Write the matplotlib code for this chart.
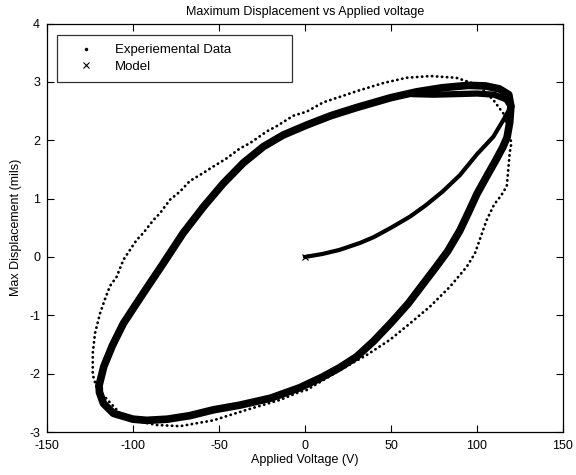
import numpy as np
import matplotlib
matplotlib.use("Agg")
import matplotlib.pyplot as plt
from matplotlib.lines import Line2D

plt.rcParams['font.family'] = ['Liberation Sans', 'DejaVu Sans']
plt.rcParams['axes.unicode_minus'] = False

exp_v = [115.3, 109.5, 104, 100, 88, 73, 59, 45.5, 30, 24, 10.7, 1, -6.8, -16.5, -22.3, -32, -37.8,
         -46, -53.3, -59.1, -67, -72.7, -78.5, -84.3, -88.2, -94, -97.9, -105.6, -109.5, -113.4,
         -116, -119.2, -122.1, -123.4, -123.4, -121, -116.3, -107.6, -100, -86.2, -72.7, -53.3,
         -33.9, -14.5, -2.9, 1, 20.3, 35.9, 49.4, 61, 72.7, 84.3, 94, 98.8, 105.6, 110, 114,
         117.3, 118.2, 119, 120, 118, 115.3]
exp_d = [2.46, 2.69, 2.85, 2.95, 3.07, 3.10, 3.07, 2.98, 2.84, 2.78, 2.65, 2.49, 2.42, 2.24, 2.15,
         1.95, 1.86, 1.68, 1.55, 1.44, 1.30, 1.12, 0.98, 0.75, 0.63, 0.41, 0.29, -0.05, -0.34,
         -0.50, -0.70, -0.97, -1.31, -1.65, -2.02, -2.25, -2.40, -2.68, -2.80, -2.88, -2.90,
         -2.80, -2.62, -2.45, -2.31, -2.28, -1.94, -1.68, -1.42, -1.14, -0.85, -0.51, -0.17,
         0.06, 0.63, 0.90, 1.05, 1.21, 1.50, 1.78, 1.95, 2.20, 2.46]

# model: initial (virgin) curve
virgin_v = [0, 10, 20, 32, 40, 50, 61, 70, 80, 90, 100, 109.5, 116, 119.7]
virgin_d = [0, 0.05, 0.12, 0.24, 0.34, 0.50, 0.69, 0.88, 1.12, 1.40, 1.76, 2.06, 2.38, 2.58]

# model: upper (descending) branch
upper_v = [119.7, 118.5, 113, 105, 95, 80, 65, 50, 30, 15, 1, -12.6, -24.2, -35.9, -47.5,
           -59, -70.8, -82.4, -94, -105.6, -112, -117, -119.7]
upper_d = [2.58, 2.78, 2.88, 2.93, 2.94, 2.90, 2.83, 2.73, 2.56, 2.42, 2.26, 2.09, 1.89, 1.61,
           1.26, 0.86, 0.41, -0.11, -0.62, -1.14, -1.52, -1.88, -2.20]

# model: inner upper branch (later cycle) near the top right
inner_v = [119.7, 117, 110, 100, 88, 75, 62]
inner_d = [2.58, 2.70, 2.78, 2.80, 2.79, 2.78, 2.79]

# model: lower (ascending) branch
lower_v = [-119.7, -119.5, -117.2, -111.4, -100, -92, -80, -67, -53.3, -38, -20, -3, 10, 20,
           30, 40, 50, 60, 69, 76, 83, 90, 95, 100, 106, 111, 115, 117.5, 119, 119.7]
lower_d = [-2.20, -2.32, -2.51, -2.68, -2.78, -2.80, -2.78, -2.72, -2.62, -2.54, -2.42, -2.24,
           -2.06, -1.90, -1.71, -1.44, -1.13, -0.80, -0.45, -0.18, 0.10, 0.45, 0.76, 1.08, 1.40,
           1.66, 1.88, 2.05, 2.30, 2.58]

fig = plt.figure(figsize=(5.76, 4.75), dpi=100)
ax = fig.add_axes([0.0816, 0.0905, 0.8958, 0.86])

# experimental points as a dotted trace
ax.plot(exp_v, exp_d, color='black', lw=2.0, linestyle=(0, (0.1, 1.7)),
        dash_capstyle='round', dash_joinstyle='round')

# model bands
band = dict(color='black', solid_capstyle='round', solid_joinstyle='round')
ax.plot(upper_v, upper_d, lw=5.5, **band)
ax.plot(lower_v, lower_d, lw=5.5, **band)
ax.plot(inner_v, inner_d, lw=4.5, **band)
ax.plot(virgin_v, virgin_d, lw=3.0, **band)
ax.plot(virgin_v[:1], virgin_d[:1], 'x', color='black', ms=4, mew=0.9)

ax.set_xlim(-150, 150)
ax.set_ylim(-3, 4)
ax.set_xticks(np.arange(-150, 151, 50))
ax.set_yticks(np.arange(-3, 5, 1))
ax.tick_params(direction='in', top=True, right=True, length=5, width=0.8, labelsize=9)
ax.tick_params(axis='x', pad=6)
ax.tick_params(axis='y', pad=5)
for s in ax.spines.values():
    s.set_linewidth(0.9)

ax.set_xlabel('Applied Voltage (V)', fontsize=9, labelpad=1)
ax.set_ylabel('Max Displacement (mils)', fontsize=9, labelpad=5)
ax.set_title('Maximum Displacement vs Applied voltage', fontsize=9, pad=6)

handles = [Line2D([], [], color='black', marker='.', ms=3, linestyle='none'),
           Line2D([], [], color='black', marker='x', ms=4, mew=0.8, linestyle='none')]
leg = ax.legend(handles, ['Experiemental Data', 'Model'], loc='upper left',
                bbox_to_anchor=(0.019, 0.851, 0.455, 0.121), mode='expand',
                fontsize=9.5, frameon=True, fancybox=False, borderpad=0.7,
                handletextpad=0.7, labelspacing=0.3, borderaxespad=0, handlelength=3.0)
leg.get_frame().set_edgecolor('black')
leg.get_frame().set_linewidth(0.9)

fig.savefig('out.png', dpi=100)
